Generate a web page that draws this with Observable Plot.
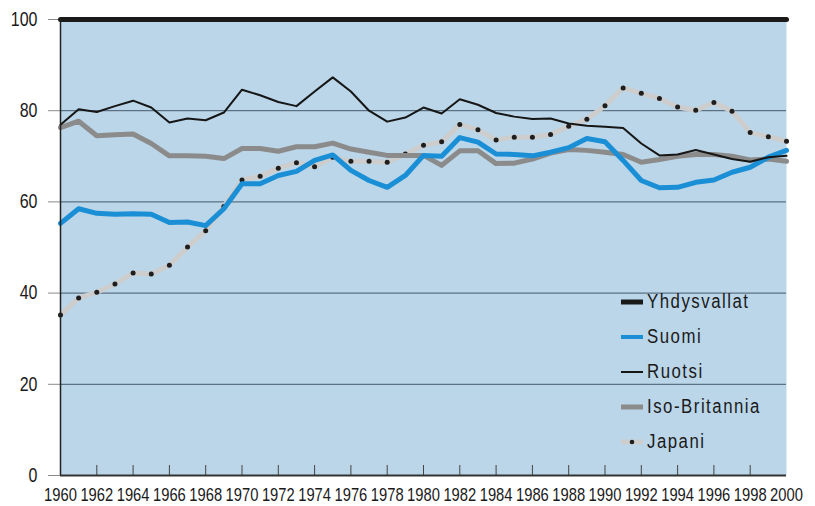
<!DOCTYPE html>
<html>
<head>
<meta charset="utf-8">
<script src="https://cdn.jsdelivr.net/npm/d3@7"></script>
<script src="https://cdn.jsdelivr.net/npm/@observablehq/plot@0.6"></script>
<style>
  html, body { margin: 0; padding: 0; background: #fff; }
  #wrap { position: relative; width: 815px; height: 506px; font-family: "Liberation Sans", Arial, sans-serif; }
  #legend { position: absolute; left: 621px; top: 284px; }
  .item { display: flex; align-items: center; height: 35px; font-size: 20px; color: #1a1a1a; white-space: nowrap; }
  .item span { display: inline-block; letter-spacing: 1.8px; transform: scaleX(0.84); transform-origin: 0 50%; }
  .sw { width: 22px; margin-right: 4px; }
</style>
</head>
<body>
<div id="wrap"></div>
<script>
const years = d3.range(1960, 2001);
const seriesNames = ["Yhdysvallat", "Suomi", "Ruotsi", "Iso-Britannia", "Japani"];
const yhdysvallat = years.map(() => 100);
const suomi = [55.3,58.5,57.5,57.3,57.4,57.3,55.5,55.6,54.8,58.5,
               64.0,64.0,65.8,66.7,69.1,70.3,66.9,64.7,63.2,65.8,
               70.2,70.0,74.1,73.1,70.5,70.4,70.1,70.9,71.9,73.9,
               73.2,69.1,64.7,63.1,63.2,64.3,64.8,66.5,67.6,69.8,71.3];
const ruotsi = [76.9,80.3,79.7,81.0,82.2,80.7,77.4,78.3,77.9,79.6,
                84.6,83.4,81.9,81.0,84.2,87.3,84.2,80.0,77.6,78.5,
                80.7,79.4,82.5,81.3,79.5,78.7,78.2,78.3,77.2,76.7,
                76.5,76.2,72.8,70.2,70.4,71.4,70.4,69.4,68.8,69.8,70.1];
const isoBritannia = [76.3,77.7,74.5,74.7,74.9,72.8,70.1,70.1,70.0,69.5,
                      71.7,71.7,71.1,72.1,72.1,72.9,71.6,70.9,70.2,70.2,
                      70.2,68.0,71.2,71.2,68.4,68.5,69.4,70.7,71.5,71.3,
                      70.9,70.4,68.7,69.3,70.0,70.4,70.4,70.0,69.2,69.4,68.9];
const japani = [35.2,38.9,40.2,42.0,44.4,44.2,46.1,50.1,53.7,59.0,
                64.8,65.6,67.4,68.6,67.7,69.8,68.9,68.9,68.7,70.5,
                72.4,73.2,77.0,75.8,73.6,74.2,74.2,74.8,76.6,78.1,
                81.1,85.0,83.8,82.7,80.8,80.1,81.8,79.9,75.2,74.3,73.3];
const yTicks = [0, 20, 40, 60, 80, 100];
const gridValues = [20, 40, 60, 80];
const xTicks = d3.range(1960, 2001, 2);
const innerTicks = xTicks.slice(1, -1);

const rows = (vals) => years.map((year, i) => ({year, value: vals[i]}));

const chart = Plot.plot({
  width: 815, height: 506,
  marginLeft: 60, marginRight: 29, marginTop: 19, marginBottom: 31,
  x: {domain: [1960, 2000]},
  y: {domain: [0, 100]},
  style: {fontFamily: '"Liberation Sans", Arial, sans-serif', color: "#1a1a1a", background: "#fff", overflow: "visible"},
  marks: [
    Plot.frame({fill: "#bad6e8", stroke: null}),
    Plot.ruleY(gridValues, {stroke: "#45596a", strokeWidth: 1}),
    Plot.tickX(innerTicks, {x: d => d, insetTop: 446, stroke: "#444", strokeWidth: 1}),
    Plot.axisY({ticks: yTicks, tickSize: 12, tickPadding: 11, stroke: "#8a8a8a", fill: "#1a1a1a", label: null}),
    Plot.axisX({ticks: xTicks, tickSize: 0, tickPadding: 13, tickFormat: d => String(d), fill: "#1a1a1a", label: null}),
    Plot.line(rows(japani), {x: "year", y: "value", stroke: "#cdcdcd", strokeWidth: 5}),
    Plot.dot(rows(japani), {x: "year", y: "value", r: 2.5, fill: "#1e1e1e"}),
    Plot.line(rows(isoBritannia), {x: "year", y: "value", stroke: "#8b8b8b", strokeWidth: 5}),
    Plot.line(rows(suomi), {x: "year", y: "value", stroke: "#1b8fd6", strokeWidth: 5}),
    Plot.line(rows(ruotsi), {x: "year", y: "value", stroke: "#161616", strokeWidth: 2}),
    Plot.line(rows(yhdysvallat), {x: "year", y: "value", stroke: "#1a1a1a", strokeWidth: 5}),
    Plot.ruleX([1960], {stroke: "#222", strokeWidth: 1.5}),
    Plot.ruleY([0], {stroke: "#333", strokeWidth: 2})
  ]
});
// typography of the tick labels: larger, horizontally condensed (narrow typeface look)
chart.querySelectorAll("text").forEach(t => {
  const isYear = +t.textContent >= 1900;
  t.style.fontSize = isYear ? "18px" : "19.5px";
  let tr = t.getAttribute("transform");
  if (!tr) {
    const x = +(t.getAttribute("x") || 0), y = +(t.getAttribute("y") || 0);
    t.removeAttribute("x"); t.removeAttribute("y");
    tr = `translate(${x},${y})`;
  }
  t.setAttribute("transform", tr + " scale(0.82,1)");
});
const wrap = document.getElementById("wrap");
wrap.appendChild(chart);

const swatches = [
  {stroke: "#1a1a1a", w: 5},
  {stroke: "#1b8fd6", w: 4},
  {stroke: "#161616", w: 2},
  {stroke: "#8b8b8b", w: 5},
  {stroke: "#cdcdcd", w: 5, dot: true}
];
const legend = document.createElement("div");
legend.id = "legend";
seriesNames.forEach((name, i) => {
  const s = swatches[i];
  const item = document.createElement("div");
  item.className = "item";
  item.innerHTML = `<svg class="sw" width="22" height="10"><line x1="0" x2="22" y1="5" y2="5" stroke="${s.stroke}" stroke-width="${s.w}"/>${s.dot ? '<circle cx="11" cy="5" r="2.3" fill="#1e1e1e"/>' : ''}</svg><span>${name}</span>`;
  legend.appendChild(item);
});
wrap.appendChild(legend);
</script>
</body>
</html>
